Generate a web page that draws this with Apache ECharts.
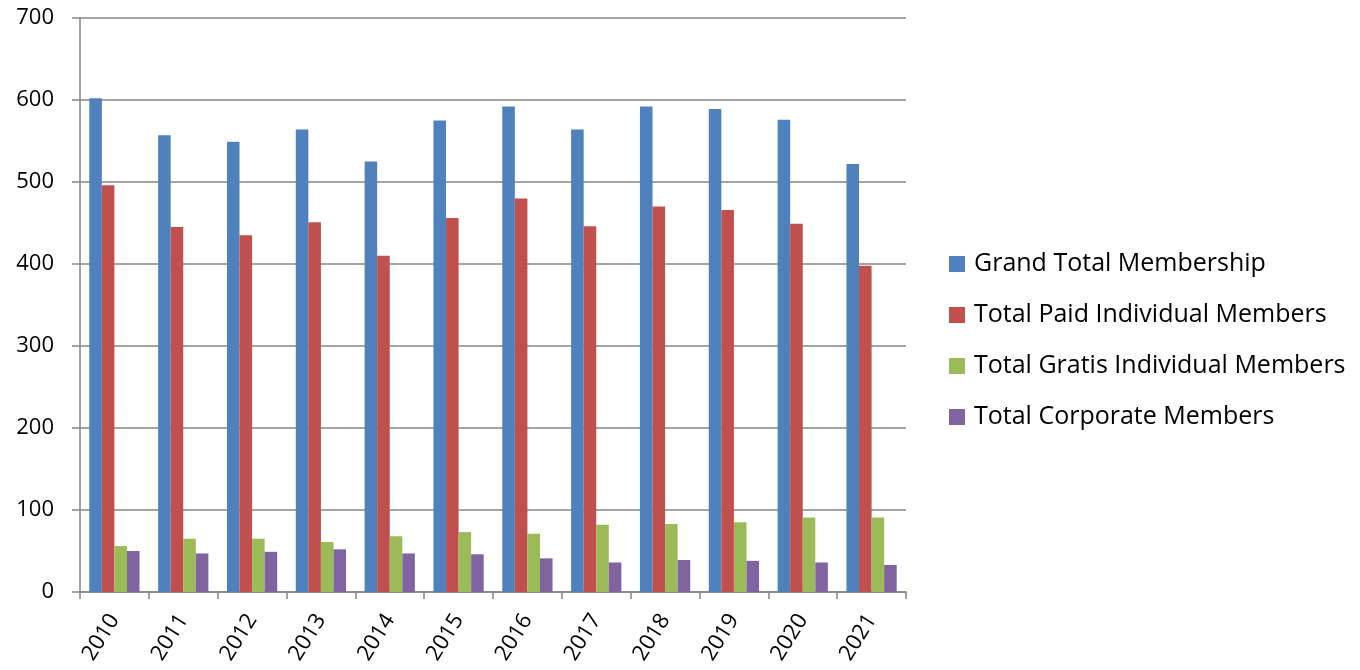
<!DOCTYPE html>
<html><head><meta charset="utf-8">
<script src="https://cdn.jsdelivr.net/npm/echarts@6/dist/echarts.min.js"></script>
<style>html,body{margin:0;padding:0;background:#fff}#c{width:1360px;height:670px}</style>
</head><body><div id="c"></div>
<script>
const categories = ['2010','2011','2012','2013','2014','2015','2016','2017','2018','2019','2020','2021'];
const seriesNames = ['Grand Total Membership','Total Paid Individual Members','Total Gratis Individual Members','Total Corporate Members'];
const grandTotal = [602,557,549,564,525,575,592,564,592,589,576,522];
const paidIndividual = [496,445,435,451,410,456,480,446,470,466,449,398];
const gratisIndividual = [56,65,65,61,68,73,71,82,83,85,91,91];
const corporate = [50,47,49,52,47,46,41,36,39,38,36,33];
const colors = ['#4F81BD','#C0504D','#9BBB59','#8064A2'];
const dataSets = [grandTotal, paidIndividual, gratisIndividual, corporate];

const chart = echarts.init(document.getElementById('c'));
const font = '"Open Sans", "Noto Sans", sans-serif';
chart.setOption({
  animation: false,
  grid: {left: 80, right: 454, top: 18, bottom: 78},
  legend: {
    orient: 'vertical', left: 944, top: 244,
    itemWidth: 16, itemHeight: 16, itemGap: 21, icon: 'rect',
    textStyle: {fontSize: 25, color: '#000', fontFamily: font, padding: [0,0,0,4], lineHeight: 30},
    data: seriesNames
  },
  xAxis: {
    type: 'category', data: categories,
    axisLine: {lineStyle: {color: '#868686', width: 1.5}},
    axisTick: {show: true, length: 7, lineStyle: {color: '#868686', width: 1.5}},
    axisLabel: {rotate: 58, fontSize: 22, color: '#000', fontFamily: font, margin: 24}
  },
  yAxis: {
    type: 'value', min: 0, max: 700, interval: 100,
    axisLine: {show: true, lineStyle: {color: '#868686', width: 1.5}},
    axisTick: {show: true, length: 8, lineStyle: {color: '#868686', width: 1.5}},
    splitLine: {lineStyle: {color: '#868686', width: 1.5}},
    axisLabel: {fontSize: 22, color: '#000', fontFamily: font, margin: 26}
  },
  series: seriesNames.map((n, i) => ({
    name: n, type: 'bar', data: dataSets[i], barGap: '0%', barCategoryGap: '27%',
    itemStyle: {color: colors[i]}
  }))
});
</script></body></html>
